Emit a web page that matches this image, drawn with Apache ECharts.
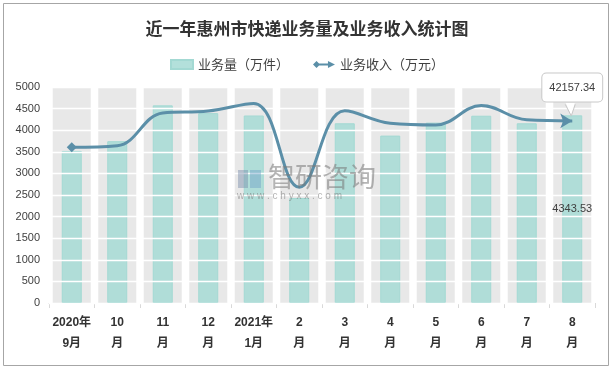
<!DOCTYPE html>
<html>
<head>
<meta charset="utf-8">
<script src="https://cdn.jsdelivr.net/npm/echarts@6/dist/echarts.min.js"></script>
<style>html,body{margin:0;padding:0;background:#fff;}#c{width:614px;height:370px;}</style>
</head>
<body>
<div id="c"></div>
<script>
var categories = ['2020年\n9月','10\n月','11\n月','12\n月','2021年\n1月','2\n月','3\n月','4\n月','5\n月','6\n月','7\n月','8\n月'];
var volume = [3520, 3745, 4575, 4395, 4340, 2430, 4160, 3875, 4175, 4335, 4160, 4343.53];
var revenue = [36040, 36400, 44000, 44440, 46200, 26800, 44500, 41600, 41200, 45700, 42400, 42157.34];
var bandValues = [5000,5000,5000,5000,5000,5000,5000,5000,5000,5000,5000,5000];

var chart = echarts.init(document.getElementById('c'));
var font = "'Liberation Sans','Noto Sans CJK SC',sans-serif";
var lineColor = '#5b8fa8';
var n = categories.length;

var revData = revenue.map(function(v, i){
  if (i === 0) return {value: v, symbol: 'diamond', symbolSize: 10};
  if (i === n - 1) return {value: v, symbol: 'arrow', symbolSize: [11, 12], symbolRotate: -90,
    label: {show: true, position: 'top', distance: 4, offset: [6, -8], formatter: '42157.34',
      color: '#404040', fontSize: 11, fontFamily: font, backgroundColor: '#fff',
      borderColor: '#c8c8c8', borderWidth: 1, borderRadius: 4, padding: [9, 7, 8, 7]}};
  return v;
});
var volData = volume.map(function(v, i){
  if (i === n - 1) return {value: v, label: {show: true, position: 'inside', color: '#404040', fontSize: 11, fontFamily: font, formatter: '4343.53'}};
  return v;
});

var baseGraphics = [
  {type: 'rect', shape: {x: 3.5, y: 3.5, width: 605, height: 362}, style: {fill: 'none', stroke: '#a6a6a6', lineWidth: 1}, z: 100},
  {type: 'text', left: 268, top: 163, style: {text: '智研咨询', fontSize: 27, fill: 'rgba(120,120,120,0.55)', fontFamily: "'Noto Sans CJK SC',sans-serif"}, z: 50},
  {type: 'text', left: 237, top: 191, style: {text: 'w w w . c h y x x . c o m', fontSize: 10, fill: 'rgba(120,120,120,0.55)', fontFamily: font}, z: 50},
  {type: 'rect', shape: {x: 238, y: 170, width: 10, height: 18}, style: {fill: 'rgba(120,140,170,0.45)'}, z: 50},
  {type: 'rect', shape: {x: 250, y: 170, width: 11, height: 18}, style: {fill: 'rgba(110,160,200,0.45)'}, z: 50}
];

chart.setOption({
  animation: false,
  backgroundColor: '#fff',
  title: {text: '近一年惠州市快递业务量及业务收入统计图', left: 'center', top: 15,
    textStyle: {fontSize: 17, fontWeight: 'bold', color: '#333', fontFamily: "'Noto Sans CJK SC',serif"}},
  legend: {top: 53, left: 'center', itemGap: 24, itemWidth: 22, itemHeight: 9,
    textStyle: {fontSize: 13, color: '#404040', fontFamily: "'Noto Sans CJK SC',sans-serif"},
    data: [{name: '业务量（万件）', icon: 'rect'},
           {name: '业务收入（万元）', icon: 'path://M0,5L4,1L8,5L4,9Z M4,4L19,4L19,6L4,6Z M17,1L25,5L17,9Z', itemStyle: {color: lineColor}}]},
  grid: {left: 49, right: 19, top: 87, bottom: 67},
  xAxis: [{type: 'category', data: categories,
    axisLine: {lineStyle: {color: '#d9d9d9'}},
    axisTick: {show: true, length: 5, lineStyle: {color: '#d9d9d9'}},
    axisLabel: {interval: 0, margin: 9, fontSize: 12, fontWeight: 'bold', color: '#333', lineHeight: 21, fontFamily: "'Liberation Sans','Noto Sans CJK SC',sans-serif"}},
    {type: 'category', data: categories, show: false}],
  yAxis: [{type: 'value', min: 0, max: 5000, interval: 500, z: 3,
    axisLine: {show: false}, axisTick: {show: false},
    axisLabel: {fontSize: 11, color: '#404040', margin: 9, fontFamily: font, formatter: function(v){ return String(v); }},
    splitLine: {show: true, lineStyle: {color: '#ffffff', width: 1.3}}},
    {type: 'value', min: 0, max: 50000, show: false, splitLine: {show: false}}],
  series: [
    {name: 'band', type: 'bar', xAxisIndex: 1, yAxisIndex: 0, data: bandValues, barWidth: 38,
      itemStyle: {color: '#e8e8e8'}, silent: true, z: 1, legendHoverLink: false},
    {name: '业务量（万件）', type: 'bar', xAxisIndex: 0, yAxisIndex: 0, data: volData, barWidth: 20, z: 2,
      itemStyle: {color: 'rgba(166,218,213,0.85)', borderColor: '#a3d9d3', borderWidth: 1}},
    {name: '业务收入（万元）', type: 'line', xAxisIndex: 0, yAxisIndex: 1, data: revData, smooth: 0.4,
      symbol: 'none', z: 4, lineStyle: {color: lineColor, width: 3}, itemStyle: {color: lineColor}}
  ],
  graphic: baseGraphics
});

// callout tail from the label box to the last revenue point
var p = chart.convertToPixel({xAxisIndex: 0, yAxisIndex: 1}, [n - 1, revenue[n - 1]]);
var tailPts = [[p[0] - 7, p[1] - 16.5], [p[0] - 1, p[1] - 5], [p[0] + 3, p[1] - 16.5]];
var tailFill = {type: 'polygon', shape: {points: [[p[0] - 6.5, p[1] - 18], [p[0] - 1, p[1] - 5.5], [p[0] + 2.5, p[1] - 18]]},
  style: {fill: '#fff', stroke: 'none'}, z: 60};
var tailLine = {type: 'polyline', shape: {points: tailPts},
  style: {fill: 'none', stroke: '#c8c8c8', lineWidth: 1}, z: 61};
chart.setOption({graphic: baseGraphics.concat([tailFill, tailLine])});
</script>
</body>
</html>
